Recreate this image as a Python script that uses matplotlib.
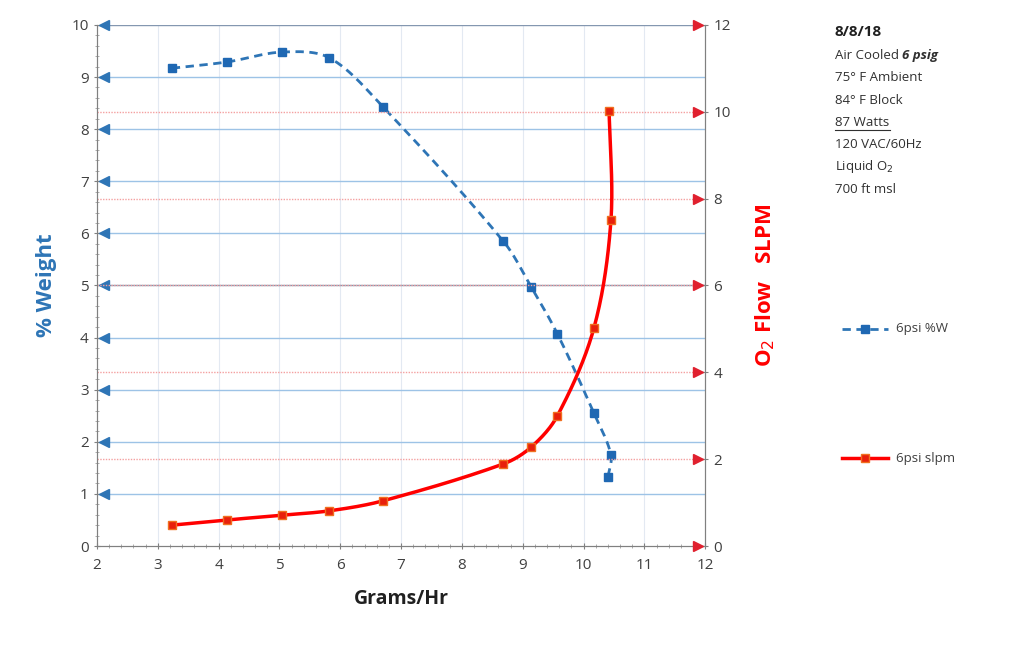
import matplotlib
matplotlib.use("Agg")
import matplotlib.pyplot as plt
import numpy as np

plt.rcParams["font.family"] = ["Open Sans", "DejaVu Sans"]

# data
grams_hr = [3.23, 4.14, 5.04, 5.82, 6.70, 8.68, 9.14, 9.57, 10.17, 10.45, 10.40]
pct_weight = [9.17, 9.29, 9.48, 9.37, 8.43, 5.85, 4.97, 4.07, 2.55, 1.75, 1.32]
grams_hr_flow = [3.23, 4.14, 5.04, 5.82, 6.70, 8.68, 9.14, 9.57, 10.17, 10.45, 10.42]
o2_slpm = [0.48, 0.60, 0.71, 0.81, 1.04, 1.89, 2.28, 3.00, 5.02, 7.51, 10.02]

notes = ["Air Cooled", "75° F Ambient", "84° F Block", "87 Watts",
         "120 VAC/60Hz", "Liquid O$_2$", "700 ft msl"]

BLUE = "#2e75b6"
RED = "#ff0000"


def smooth(xs, ys, sx, sy, n=30):
    # Hermite/Bezier through the points with chord-length tangents (Excel-like smoothing)
    p = np.column_stack([np.asarray(xs) * sx, np.asarray(ys) * sy]).astype(float)
    d = np.linalg.norm(np.diff(p, axis=0), axis=1)
    t = np.concatenate([[0], np.cumsum(d)])
    m = np.zeros_like(p)
    m[0] = (p[1] - p[0]) / d[0]
    m[-1] = (p[-1] - p[-2]) / d[-1]
    for i in range(1, len(p) - 1):
        m[i] = (p[i + 1] - p[i - 1]) / (t[i + 1] - t[i - 1])
    out = []
    u = np.linspace(0, 1, n)[:, None]
    for i in range(len(p) - 1):
        c1 = p[i] + m[i] * d[i] / 3
        c2 = p[i + 1] - m[i + 1] * d[i] / 3
        out.append((1 - u) ** 3 * p[i] + 3 * (1 - u) ** 2 * u * c1
                   + 3 * (1 - u) * u ** 2 * c2 + u ** 3 * p[i + 1])
    out = np.vstack(out)
    return out[:, 0] / sx, out[:, 1] / sy


fig = plt.figure(figsize=(10.24, 6.47), dpi=100)
ax = fig.add_axes([0.0947, 0.1561, 0.594, 0.8053])
ax2 = ax.twinx()

ax.set_xlim(2, 12)
ax.set_ylim(0, 10)
ax2.set_ylim(0, 12)

# vertical faint grid
for xv in range(3, 12):
    ax.axvline(xv, color="#e3e9f2", lw=0.8, zorder=0)

# horizontal left grid with arrows
for yv in range(1, 11):
    col = "#8497b0" if yv in (5, 10) else "#9dc3e6"
    ax.axhline(yv, color=col, lw=1.0, zorder=1)
    ax.plot(2.11, yv, marker="<", color=BLUE, ms=6.5, zorder=3, clip_on=False)

# right axis dotted red lines with arrows
for yv in range(2, 12, 2):
    ax2.axhline(yv, color="#f4a0a0", lw=1.0, ls=(0, (1, 1)), zorder=1)
for yv in range(0, 14, 2):
    ax2.plot(11.88, yv, marker=">", color="#e0202e", ms=6.5, zorder=3, clip_on=False)

# series
sx, sy = smooth(grams_hr, pct_weight, 60.8, 52.1)
ax.plot(sx, sy, color=BLUE, lw=2, ls=(0, (3, 2)), zorder=4)
ax.plot(grams_hr, pct_weight, ls="none", marker="s", ms=6, color="#1f68b3", zorder=5)

rx, ry = smooth(grams_hr_flow, o2_slpm, 60.8, 43.4)
ax2.plot(rx, ry, color=RED, lw=2.5, zorder=4)
ax2.plot(grams_hr_flow, o2_slpm, ls="none", marker="s", ms=6, color="#e8200c",
         markeredgecolor="#f07020", zorder=5)

# ticks
ax.set_xticks(range(2, 13))
ax.set_xticks(np.arange(2, 12.01, 0.2), minor=True)
ax.set_yticks(range(0, 11))
ax.set_yticks(np.arange(0, 10.01, 0.2), minor=True)
ax2.set_yticks(range(0, 13, 2))
ax2.set_yticks([], minor=True)
for a in (ax, ax2):
    a.tick_params(axis="both", which="major", labelsize=11, labelcolor="#404040",
                  color="#808080", length=5, direction="inout")
    a.tick_params(axis="both", which="minor", color="#a0a0a0", length=3, direction="inout")
    for s in a.spines.values():
        s.set_color("#808080")
ax.spines["top"].set_visible(False)
ax2.spines["top"].set_visible(False)
ax.tick_params(axis="x", pad=6)

ax.set_xlabel("Grams/Hr", fontsize=14, fontweight="bold", color="#202020", labelpad=12)
ax.set_ylabel("% Weight", fontsize=16, fontweight="bold", color=BLUE, labelpad=10)
ax2.set_ylabel("O$_2$ Flow   SLPM", fontsize=16, fontweight="bold", color=RED, labelpad=16)

# notes
fig.text(0.815, 0.945, "8/8/18", fontsize=11, fontweight="bold", color="#202020")
y0 = 0.909
dy = 0.0345
first = fig.text(0.815, y0, notes[0] + " ", fontsize=9.5, color="#303030")
for i, line in enumerate(notes[1:], start=1):
    fig.text(0.815, y0 - i * dy, line, fontsize=9.5, color="#303030")
fig.canvas.draw()
bb = first.get_window_extent().transformed(fig.transFigure.inverted())
fig.text(bb.x1, y0, "6 psig", fontsize=9.5, fontweight="bold", style="italic", color="#303030")
# underline for 87 Watts
fig.add_artist(plt.Line2D([0.815, 0.869], [y0 - 3 * dy - 0.006] * 2, color="#303030", lw=0.8))

# legend entries
lx = 0.822
fig.add_artist(plt.Line2D([lx, lx + 0.045], [0.492, 0.492], color=BLUE, lw=2, ls=(0, (3, 2))))
fig.add_artist(plt.Line2D([lx + 0.0225], [0.492], marker="s", ms=6, color="#1f68b3"))
fig.text(lx + 0.053, 0.492, "6psi %W", fontsize=9.5, va="center", color="#404040")
fig.add_artist(plt.Line2D([lx, lx + 0.045], [0.292, 0.292], color=RED, lw=2.5))
fig.add_artist(plt.Line2D([lx + 0.0225], [0.292], marker="s", ms=6, color="#e8200c",
                          markeredgecolor="#f07020"))
fig.text(lx + 0.053, 0.292, "6psi slpm", fontsize=9.5, va="center", color="#404040")

fig.savefig("out.png", dpi=100)
